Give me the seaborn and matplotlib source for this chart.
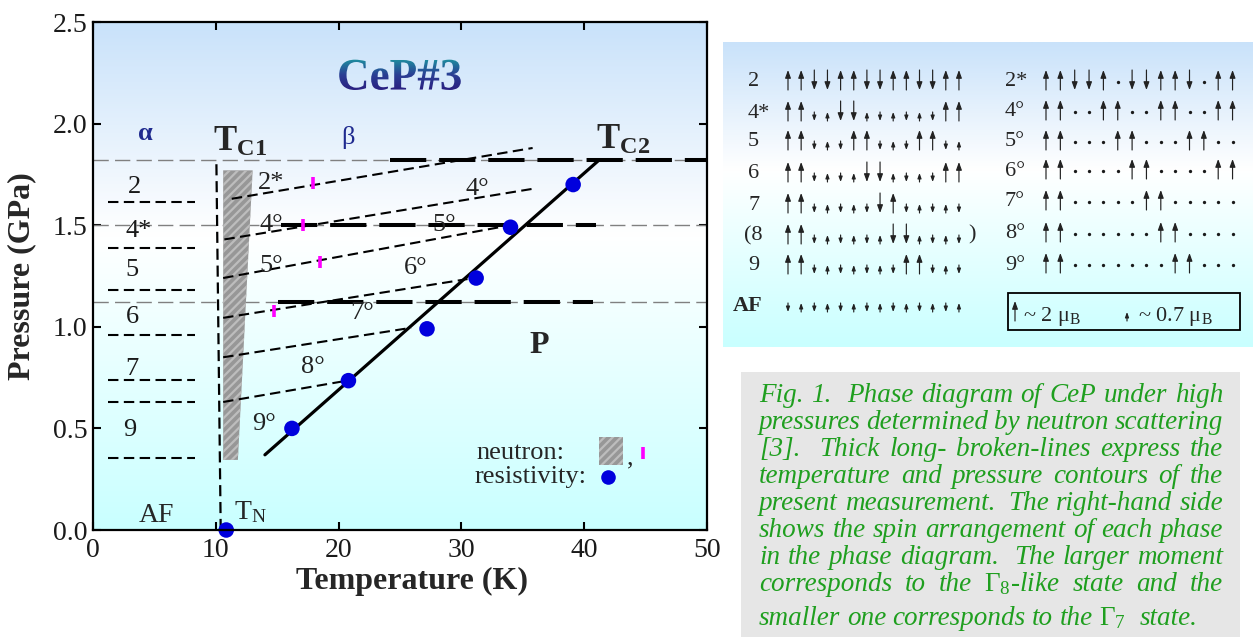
import numpy as np
import matplotlib
matplotlib.use('Agg')
import matplotlib.pyplot as plt
import seaborn as sns
from matplotlib.colors import LinearSegmentedColormap
from matplotlib.patches import Rectangle, PathPatch, Polygon
from matplotlib.textpath import TextPath
from matplotlib.font_manager import FontProperties
from matplotlib.transforms import Affine2D

# ---------------- phase diagram data (T in K, P in GPa) ----------------
res_T = [10.85, 16.2, 20.8, 27.2, 31.2, 34.0, 39.1]
res_P = [0.0, 0.50, 0.735, 0.99, 1.24, 1.49, 1.70]
neutron_T = [17.9, 17.1, 18.5, 14.7]
neutron_P = [1.71, 1.50, 1.32, 1.08]

tc2_T = [14.0, 41.2]
tc2_P = [0.37, 1.82]
tc1_T = [10.05, 10.4]
tc1_P = [1.80, 0.0]
band_T = [10.6, 13.0, 11.8, 10.6]
band_P = [1.77, 1.77, 0.345, 0.345]

alpha_bound_P = [1.615, 1.39, 1.18, 0.96, 0.74, 0.63, 0.355]
alpha_bound_T = [1.2, 8.3]

beta_T0 = [11.3, 10.7, 10.6, 10.6, 10.6, 10.6]
beta_P0 = [1.63, 1.43, 1.24, 1.044, 0.85, 0.63]
beta_T1 = [35.8, 35.9, 34.0, 30.5, 25.9, 20.7]
beta_P1 = [1.88, 1.68, 1.50, 1.235, 0.995, 0.735]

contour_P = [1.82, 1.50, 1.12]
contour_T0 = [24.2, 15.3, 15.1]
contour_T1 = [50.0, 41.0, 40.7]

alpha_labels = ['2', '4*', '5', '6', '7', '9']
alpha_label_T = [3.4, 3.7, 3.2, 3.2, 3.2, 3.0]
alpha_label_P = [1.69, 1.47, 1.28, 1.05, 0.79, 0.49]

beta_labels = ['2*', '4°', '5°', '6°', '7°', '8°', '9°', '4°', '5°']
beta_label_T = [14.5, 14.5, 14.5, 26.3, 21.9, 17.9, 13.9, 31.3, 28.6]
beta_label_P = [1.71, 1.50, 1.30, 1.29, 1.07, 0.80, 0.52, 1.68, 1.50]

x_ticks = [0, 10, 20, 30, 40, 50]
y_ticks = [0.0, 0.5, 1.0, 1.5, 2.0, 2.5]

# ---------------- spin arrangements ----------------
# U/D: large moment up/down, u/d: small moment up/down, '.': no moment
left_phases = ['2', '4*', '5', '6', '7', '(8', '9', 'AF']
left_spins = ['UUDDUUDDUUDDUU', 'UUduDDudududUU', 'UUdudUUdudUUdu',
              'UUduduDDududUU', 'UUdududDUdudud', 'UUdududuDDudud',
              'UUdudududUUdud', 'dudududududududu'[:14]]
right_phases = ['2*', '4°', '5°', '6°', '7°', '8°', '9°']
right_spins = ['UUDDU.DDUUD.UU', 'UU..UU..UU..UU', 'UU...UU...UU..',
               'UU....UU....UU', 'UU.....UU.....', 'UU......UU....', 'UU.......UU...']
left_row_y = [80, 111, 140, 172, 203, 234, 264, 302]
right_row_y = [80, 110, 140, 169, 200, 232, 263]

caption_lines = [
    'Fig. 1.  Phase diagram of CeP under high',
    'pressures determined by neutron scattering',
    '[3].  Thick long- broken-lines express the',
    'temperature and pressure contours of the',
    'present measurement.  The right-hand side',
    'shows the spin arrangement of each phase',
    'in the phase diagram.  The larger moment',
    r'corresponds to the $\Gamma_8$-like state and the',
    r'smaller one corresponds to the $\Gamma_7$  state.',
]
caption_baseline = [402, 429, 456, 483, 510, 537, 564, 591, 625]

# ---------------- style ----------------
sns.set_style('ticks', {'xtick.direction': 'in', 'ytick.direction': 'in'})
plt.rcParams['font.family'] = ['Liberation Serif', 'DejaVu Serif']
plt.rcParams.update({
    'mathtext.fontset': 'custom',
    'mathtext.rm': 'Liberation Serif',
    'mathtext.it': 'Liberation Serif:italic',
    'mathtext.bf': 'Liberation Serif:bold',
    'hatch.linewidth': 1.6,
})

W, H = 1253, 637
fig = plt.figure(figsize=(W / 100, H / 100), dpi=100)


def px_axes(x0, y0, x1, y1):
    return fig.add_axes([x0 / W, 1 - y1 / H, (x1 - x0) / W, (y1 - y0) / H])


bg_cmap = LinearSegmentedColormap.from_list(
    'bg', [(0, '#c9ffff'), (0.58, '#ffffff'), (1, '#c9e2fa')])
grad = np.linspace(0, 1, 256)[:, None]

# ================= main phase diagram =================
ax = px_axes(93, 22, 707, 530)
ax.imshow(grad, extent=(0, 50, 0, 2.5), origin='lower', cmap=bg_cmap,
          aspect='auto', zorder=0)

for p in contour_P:
    ax.axhline(p, color='#808080', lw=1.0, dashes=(11, 4.5), zorder=1)

ax.add_patch(Polygon(np.column_stack([band_T, band_P]), closed=True,
                     facecolor='#979797', edgecolor='#bdbdbd', hatch='////',
                     lw=0, zorder=2))

for p in alpha_bound_P:
    ax.plot(alpha_bound_T, [p, p], color='k', lw=1.5, dashes=(5, 2.6), zorder=3)

for t0, p0, t1, p1 in zip(beta_T0, beta_P0, beta_T1, beta_P1):
    ax.plot([t0, t1], [p0, p1], color='k', lw=1.5, dashes=(5, 2.6), zorder=3)

ax.plot(tc1_T, tc1_P, color='k', lw=1.6, dashes=(5, 2.6), zorder=3)

for t0, t1, p in zip(contour_T0, contour_T1, contour_P):
    ax.plot([t0, t1], [p, p], color='k', lw=2.9, dashes=(9, 3.2),
            dash_capstyle='butt', zorder=3)

sns.lineplot(x=tc2_T, y=tc2_P, color='k', linewidth=2.3, ax=ax, zorder=4)
sns.scatterplot(x=neutron_T, y=neutron_P, marker='|', s=80, color='#ff00ff',
                linewidth=2.6, ax=ax, zorder=5)
sns.scatterplot(x=res_T, y=res_P, color='#0000dd', s=125, edgecolor='none',
                ax=ax, zorder=6, clip_on=False)

for lab, t, p in zip(alpha_labels, alpha_label_T, alpha_label_P):
    ax.text(t, p, lab, ha='center', va='center', fontsize=19, color='#1a1a1a', zorder=7)
for lab, t, p in zip(beta_labels, beta_label_T, beta_label_P):
    ax.text(t, p, lab, ha='center', va='center', fontsize=19, color='#222222', zorder=7)

ax.text(4.3, 1.95, 'α', ha='center', va='center', fontsize=19, color='#1f2a8f',
        fontweight='bold')
ax.text(20.8, 1.93, 'β', ha='center', va='center', fontsize=19, color='#1f2a8f')
ax.text(12.0, 1.91, r'$\mathbf{T_{C1}}$', ha='center', va='center', fontsize=25)
ax.text(43.2, 1.92, r'$\mathbf{T_{C2}}$', ha='center', va='center', fontsize=25)
ax.text(36.3, 0.91, 'P', ha='center', va='center', fontsize=23, fontweight='bold')
ax.text(5.2, 0.07, 'AF', ha='center', va='center', fontsize=20)
ax.text(12.8, 0.09, r'$\mathrm{T_N}$', ha='center', va='center', fontsize=20)

# legend
ax.text(38.4, 0.38, 'neutron:', ha='right', va='center', fontsize=19)
ax.text(40.2, 0.26, 'resistivity:', ha='right', va='center', fontsize=19)
ax.add_patch(Rectangle((41.2, 0.32), 2.0, 0.14, facecolor='#979797',
                       edgecolor='#bdbdbd', hatch='////', lw=0, zorder=5))
ax.text(43.5, 0.35, ',', ha='left', va='center', fontsize=19)
ax.plot(44.8, 0.38, '|', ms=9, mew=2.6, color='#ff00ff')
ax.plot(41.9, 0.26, 'o', ms=10.5, color='#0000dd', mec='none')

ax.set_xlim(0, 50)
ax.set_ylim(0, 2.5)
ax.set_xticks(x_ticks)
ax.set_yticks(y_ticks)
ax.set_xticklabels([str(t) for t in x_ticks])
ax.set_yticklabels([f'{t:.1f}' for t in y_ticks])
ax.tick_params(axis='both', which='major', direction='in', length=6, width=1.5,
               labelsize=20, top=True, right=True, color='k', labelcolor='#1a1a1a')
ax.tick_params(axis='x', pad=6)
ax.tick_params(axis='y', pad=4)
for s in ax.spines.values():
    s.set_linewidth(1.6)
    s.set_color('k')
    s.set_visible(True)
    s.set_zorder(8)
ax.set_xlabel('Temperature (K)', fontsize=23, fontweight='bold')
ax.set_ylabel('Pressure (GPa)', fontsize=23, fontweight='bold')
ax.xaxis.set_label_coords(0.519, -0.072)
ax.yaxis.set_label_coords(-0.093, 0.5)

# gradient-filled title
fp = FontProperties(family='Liberation Serif', weight='bold')
tp = TextPath((0, 0), 'CeP#3', size=32.5 * fig.dpi / 72, prop=fp)
bb = tp.get_extents()
cx, cy = ax.transData.transform((25.0, 2.24))
trans = Affine2D().translate(cx - bb.x0 - bb.width / 2, cy - bb.y0 - bb.height / 2)
clip = PathPatch(tp, transform=trans, fc='none', ec='none')
inv = ax.transData.inverted()
(x0d, y0d) = inv.transform((cx - bb.width / 2 - 2, cy - bb.height / 2 - 2))
(x1d, y1d) = inv.transform((cx + bb.width / 2 + 2, cy + bb.height / 2 + 2))
title_cmap = LinearSegmentedColormap.from_list('title', ['#2b1b7e', '#2a3f95', '#1c9aa0'])
im = ax.imshow(grad, extent=(x0d, x1d, y0d, y1d), origin='lower', cmap=title_cmap,
               aspect='auto', zorder=7)
im.set_clip_path(clip)
ax.set_xlim(0, 50)
ax.set_ylim(0, 2.5)

# ================= spin arrangement panel =================
sp = px_axes(723, 42, 1253, 347)
sp.set_xlim(723, 1253)
sp.set_ylim(347, 42)
sp.imshow(grad, extent=(723, 1253, 347, 42), origin='lower', cmap=bg_cmap,
          aspect='auto', zorder=0)
sp.axis('off')

ARROW = '-|>,head_length=0.55,head_width=0.2'


def draw_spin(axis, x, yc, s):
    if s == '.':
        axis.plot(x, yc + 2, 'o', ms=2.4, color='#1a1a1a', mec='none')
        return
    ends = {'U': (yc + 10, yc - 10), 'D': (yc - 10, yc + 10),
            'u': (yc + 10, yc + 1), 'd': (yc + 1, yc + 10)}
    tail, head = ends[s]
    scale = 8.5 if s in 'UD' else 5.5
    axis.annotate('', xy=(x, head), xytext=(x, tail),
                  arrowprops=dict(arrowstyle=ARROW, lw=0.85, color='#222222',
                                  shrinkA=0, shrinkB=0, mutation_scale=scale))


for lab, spins, yc in zip(left_phases, left_spins, left_row_y):
    bold = lab == 'AF'
    lx = 733 if bold else (744 if lab.startswith('(') else 748)
    sp.text(lx, yc + 2 if not bold else yc + 4, lab, ha='left', va='center',
            fontsize=16, fontweight='bold' if bold else 'normal')
    for i, s in enumerate(spins):
        draw_spin(sp, 788 + 13.15 * i, yc, s)
    if lab.startswith('('):
        sp.text(972, yc + 1, ')', ha='center', va='center', fontsize=16)

for lab, spins, yc in zip(right_phases, right_spins, right_row_y):
    sp.text(1005, yc + 2, lab, ha='left', va='center', fontsize=16)
    for i, s in enumerate(spins):
        draw_spin(sp, 1046 + 14.35 * i, yc, s)

sp.add_patch(Rectangle((1008, 293), 232, 37, fill=False, lw=1.3, edgecolor='k'))
draw_spin(sp, 1015, 311, 'U')
sp.text(1023, 321, r'~ 2 $\mathrm{\mu_B}$', ha='left', va='baseline', fontsize=16)
sp.annotate('', xy=(1127, 312), xytext=(1127, 321),
            arrowprops=dict(arrowstyle=ARROW, lw=0.85, color='#222222',
                            shrinkA=0, shrinkB=0, mutation_scale=5.5))
sp.text(1138, 321, r'~ 0.7 $\mathrm{\mu_B}$', ha='left', va='baseline', fontsize=16)

# ================= caption =================
cap = px_axes(741, 372, 1240, 637)
cap.set_xlim(741, 1240)
cap.set_ylim(637, 372)
cap.set_facecolor('#e6e6e6')
cap.set_xticks([])
cap.set_yticks([])
for s in cap.spines.values():
    s.set_visible(False)

renderer = fig.canvas.get_renderer()
left, right = 759, 1223
green = '#1f9f1f'
for n, (line, yb) in enumerate(zip(caption_lines, caption_baseline)):
    words, weights, pending = [], [], 0
    for tok in line.split(' '):
        if tok == '':
            pending += 1
            continue
        if words:
            weights.append(1 + pending)
        pending = 0
        words.append(tok)
    texts = [cap.text(left, yb, w, ha='left', va='baseline', fontsize=19.5,
                      style='italic', color=green) for w in words]
    widths = [t.get_window_extent(renderer).width for t in texts]
    if n == len(caption_lines) - 1:
        unit = 6.5
    else:
        unit = (right - left - sum(widths)) / max(sum(weights), 1)
    x = left
    for i, t in enumerate(texts):
        t.set_x(x)
        x += widths[i] + (unit * weights[i] if i < len(weights) else 0)

fig.savefig('out.png', dpi=100)
